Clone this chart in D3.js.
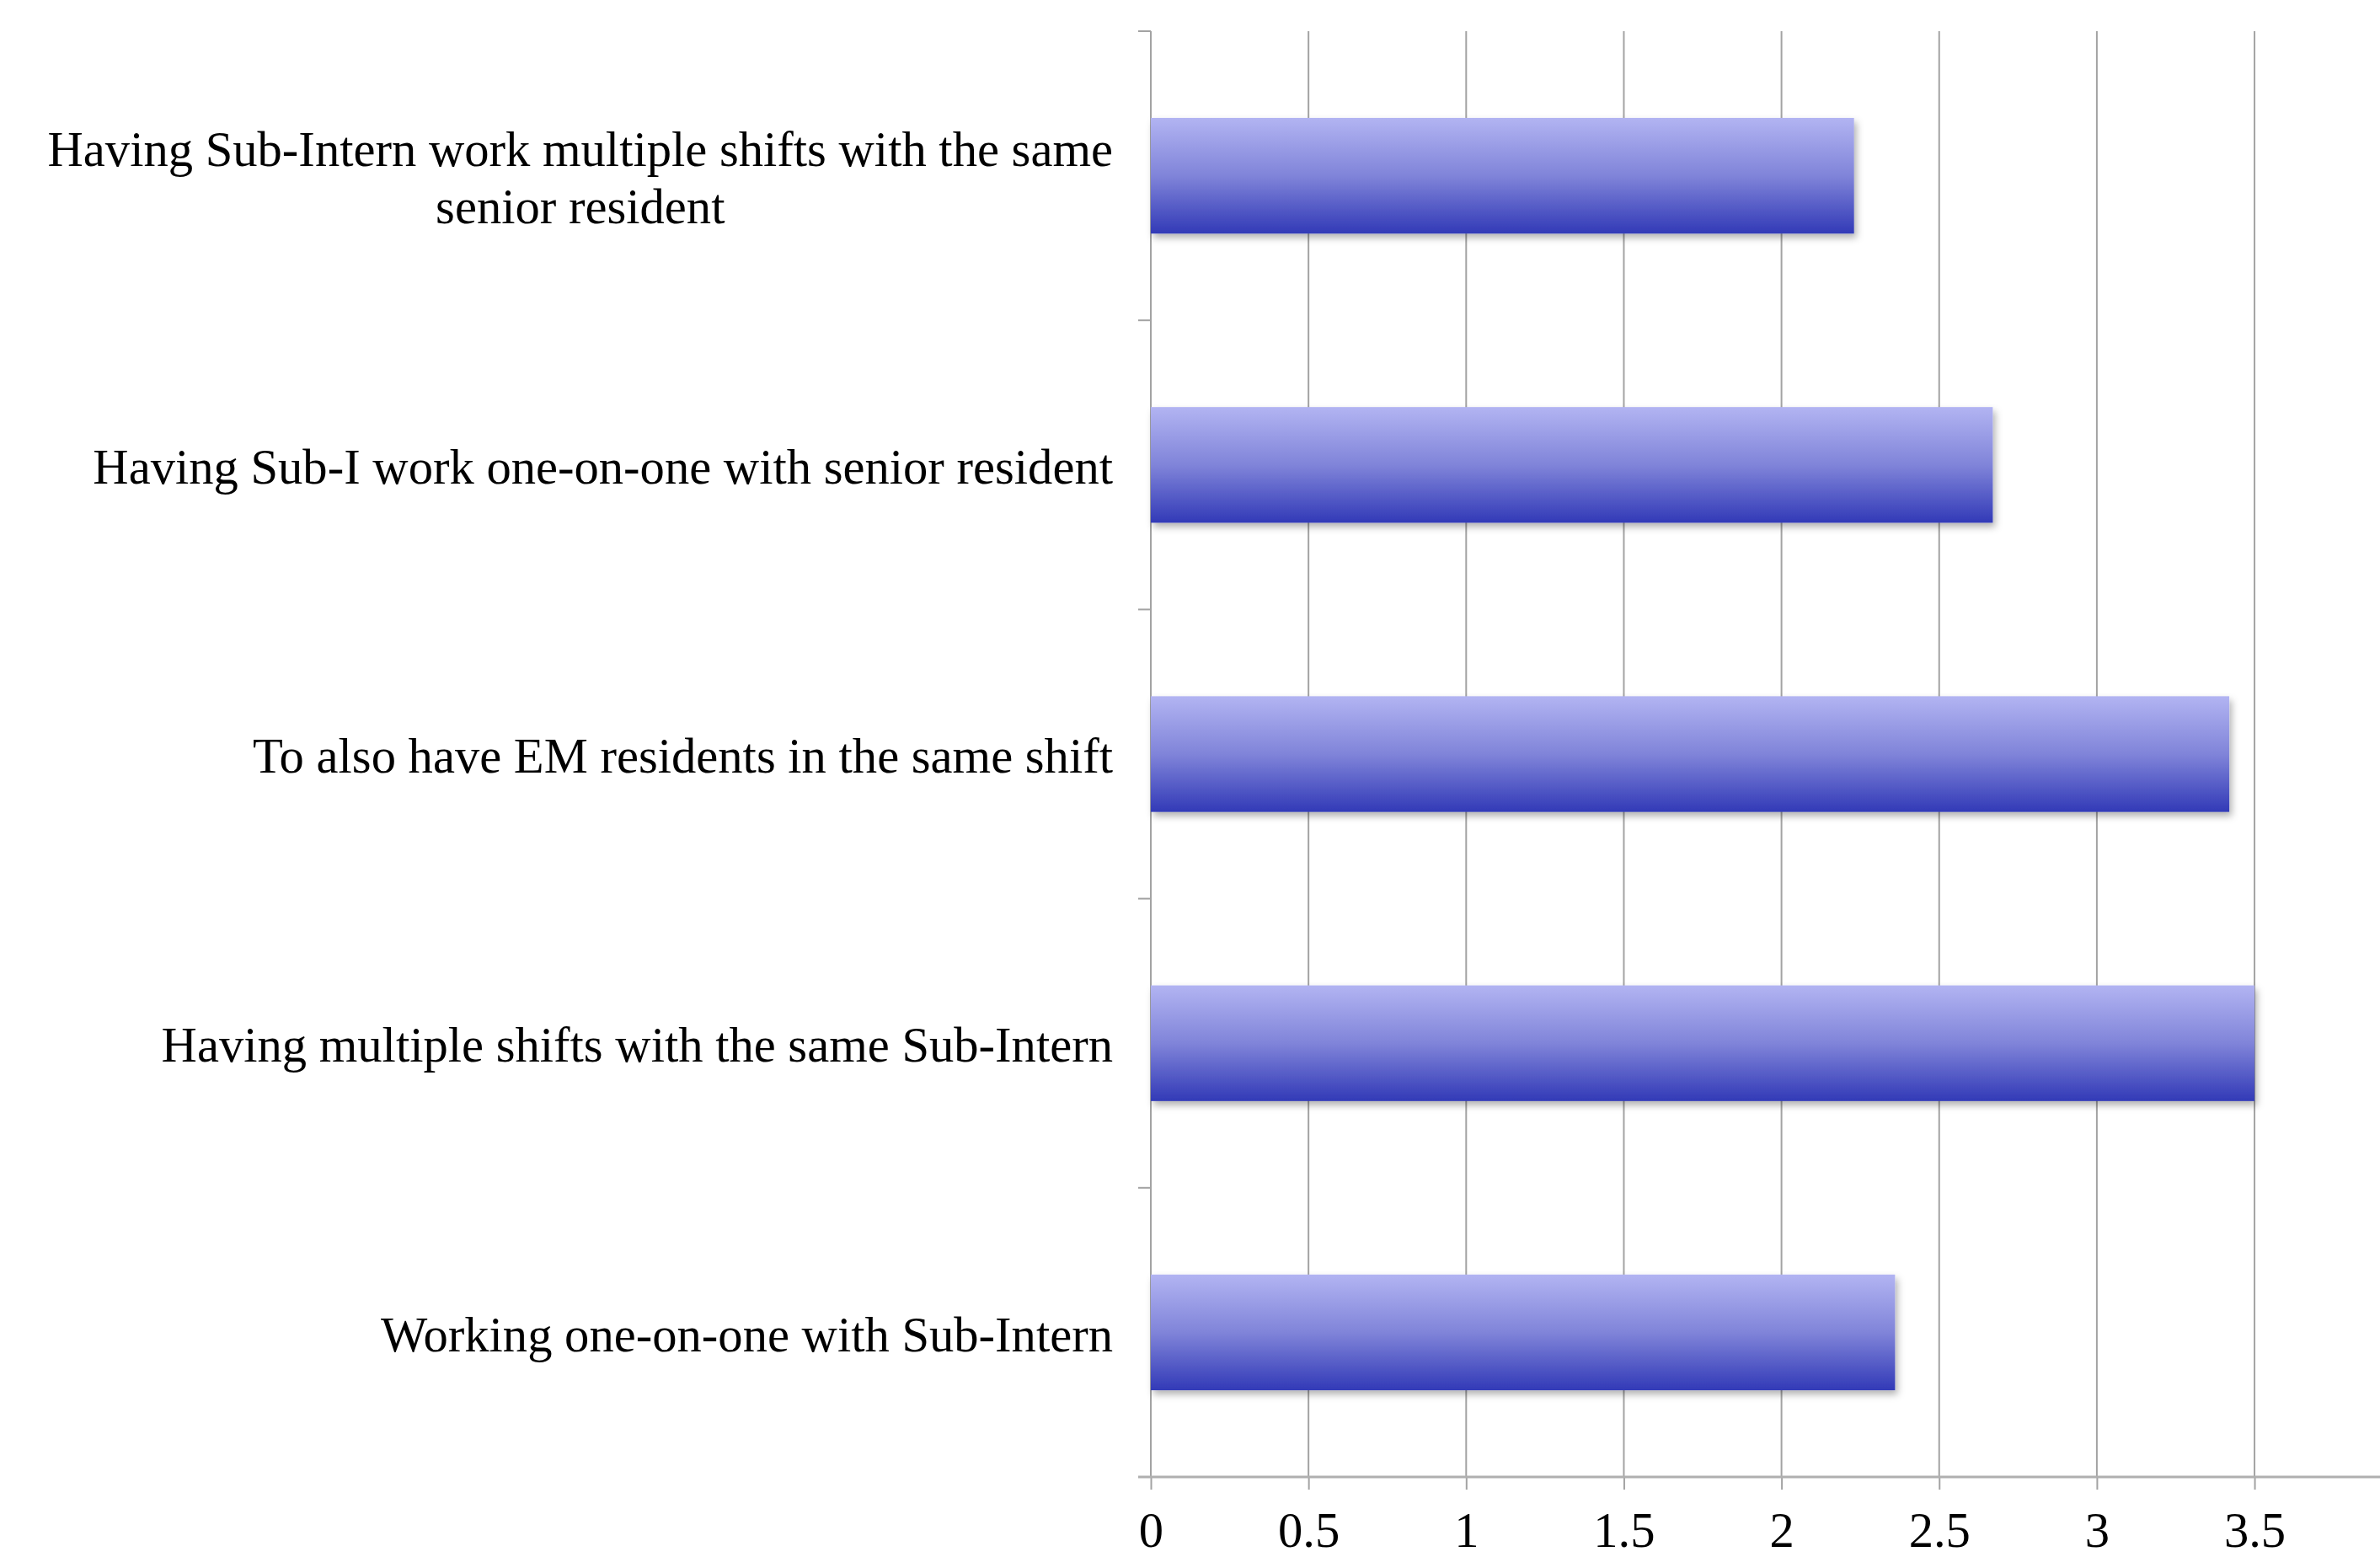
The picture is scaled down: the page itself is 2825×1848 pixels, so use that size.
<!DOCTYPE html>
<html>
<head>
<meta charset="utf-8">
<script src="https://cdn.jsdelivr.net/npm/d3@7"></script>
<style>
  html, body { margin: 0; padding: 0; background: #fff; }
  svg { display: block; }
  text { font-family: "Liberation Serif", "Times New Roman", serif; fill: #000; }
</style>
</head>
<body>
<svg id="chart" width="2825" height="1848"></svg>
<script>
const categories = [
  "Having Sub-Intern work multiple shifts with the same senior resident",
  "Having Sub-I work one-on-one with senior resident",
  "To also have EM residents in the same shift",
  "Having multiple shifts with the same Sub-Intern",
  "Working one-on-one with Sub-Intern"
];
const values = [2.23, 2.67, 3.42, 3.50, 2.36];
const tickValues = [0, 0.5, 1, 1.5, 2, 2.5, 3, 3.5];
const tickLabels = ["0", "0.5", "1", "1.5", "2", "2.5", "3", "3.5"];

const W = 2825, H = 1848;
const plotLeft = 1366, plotTop = 37, plotBottom = 1753;
const unitPx = 374.3;
const fontSize = 58.6;
const gridColor = "#a3a3a3";

const svg = d3.select("#chart");
const defs = svg.append("defs");
const grad = defs.append("linearGradient").attr("id", "barGrad")
  .attr("x1", 0).attr("y1", 0).attr("x2", 0).attr("y2", 1);
grad.append("stop").attr("offset", "0%").attr("stop-color", "#b2b4f2");
grad.append("stop").attr("offset", "50%").attr("stop-color", "#8084d9");
grad.append("stop").attr("offset", "100%").attr("stop-color", "#323ab7");
const filt = defs.append("filter").attr("id", "shadow")
  .attr("x", "-5%").attr("y", "-10%").attr("width", "115%").attr("height", "140%");
filt.append("feDropShadow").attr("dx", 3).attr("dy", 5).attr("stdDeviation", 4)
  .attr("flood-color", "#000").attr("flood-opacity", 0.3);

const x = d3.scaleLinear().domain([0, 4]).range([plotLeft, plotLeft + 4 * unitPx]);
const y = d3.scaleBand().domain(categories).range([plotTop, plotBottom])
  .paddingInner(0.6).paddingOuter(0.3);

// gridlines
svg.append("g").selectAll("line").data(tickValues.filter(d => d > 0)).join("line")
  .attr("x1", d => x(d)).attr("x2", d => x(d))
  .attr("y1", plotTop).attr("y2", plotBottom)
  .attr("stroke", gridColor).attr("stroke-width", 2);

// left axis line + category boundary ticks
svg.append("line").attr("x1", plotLeft).attr("x2", plotLeft)
  .attr("y1", plotTop).attr("y2", plotBottom)
  .attr("stroke", gridColor).attr("stroke-width", 2);
const step = y.step();
const bounds = categories.map(c => y(c) - y.paddingOuter() * step);
svg.append("g").selectAll("line").data(bounds).join("line")
  .attr("x1", plotLeft - 15).attr("x2", plotLeft)
  .attr("y1", d => d).attr("y2", d => d)
  .attr("stroke", gridColor).attr("stroke-width", 2);

// bars
svg.append("g").selectAll("rect").data(categories).join("rect")
  .attr("x", x(0)).attr("y", c => y(c))
  .attr("width", (c, i) => x(values[i]) - x(0))
  .attr("height", y.bandwidth())
  .attr("fill", "url(#barGrad)")
  .attr("filter", "url(#shadow)");

// bottom axis
const xAxis = d3.axisBottom(x).tickValues(tickValues)
  .tickFormat((d, i) => tickLabels[i]).tickSize(15).tickSizeOuter(0).tickPadding(26);
const gx = svg.append("g").attr("transform", `translate(0,${plotBottom})`).call(xAxis);
gx.select(".domain").remove();
gx.selectAll(".tick line").attr("stroke", gridColor).attr("stroke-width", 2);
gx.selectAll(".tick text").style("font-size", fontSize + "px")
  .style("font-family", "'Liberation Serif', 'Times New Roman', serif").attr("fill", "#000");
svg.append("line").attr("x1", plotLeft - 15).attr("x2", W)
  .attr("y1", plotBottom).attr("y2", plotBottom)
  .attr("stroke", "#b0b0b0").attr("stroke-width", 3);

// category labels (wrapped, right-aligned block, centered lines)
const labelRight = 1321, maxWidth = 1300, lineH = fontSize * 1.16;
const lg = svg.append("g");
categories.forEach(c => {
  const words = c.split(" ");
  const tmp = lg.append("text").style("font-size", fontSize + "px");
  const lines = [];
  let cur = "";
  words.forEach(w => {
    const test = cur ? cur + " " + w : w;
    tmp.text(test);
    if (tmp.node().getComputedTextLength() > maxWidth && cur) { lines.push(cur); cur = w; }
    else cur = test;
  });
  lines.push(cur);
  const widths = lines.map(l => { tmp.text(l); return tmp.node().getComputedTextLength(); });
  tmp.remove();
  const blockW = d3.max(widths);
  const cx = labelRight - blockW / 2;
  const cy = y(c) + y.bandwidth() / 2;
  const t = lg.append("text").style("font-size", fontSize + "px")
    .attr("text-anchor", "middle");
  lines.forEach((l, i) => {
    t.append("tspan").attr("x", cx)
      .attr("y", cy + (i - (lines.length - 1) / 2) * lineH)
      .attr("dy", "0.38em").text(l);
  });
});
</script>
</body>
</html>
